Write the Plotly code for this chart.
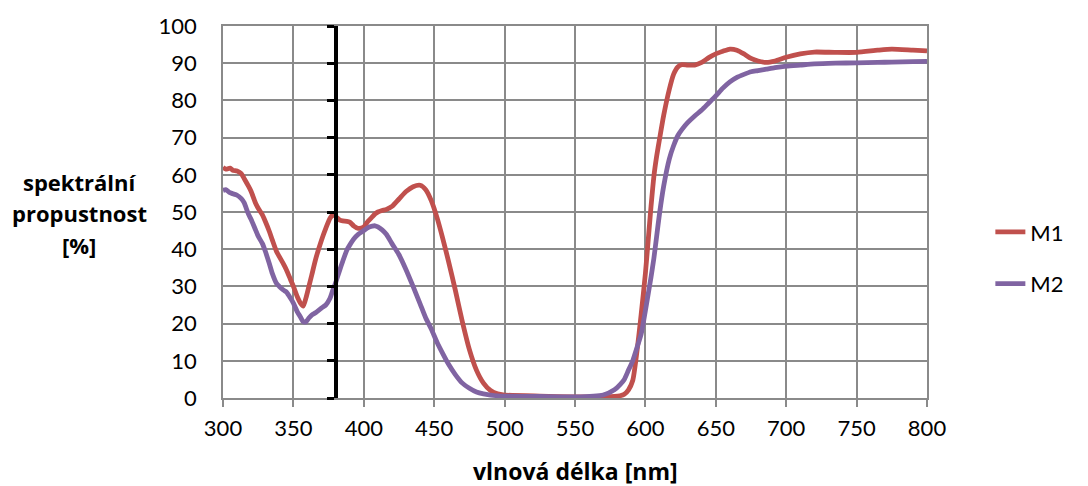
import plotly.graph_objects as go

# Wavelength grid [nm] and spectral transmittance [%] of the two samples
wavelength = [300, 302, 305, 307, 310, 313, 315, 318, 320, 323, 325, 328, 330, 333, 335, 338,
              340, 343, 345, 348, 350, 353, 355, 357, 359, 361, 363, 366, 370, 373, 376, 378,
              380, 383, 385, 388, 390, 393, 396, 400, 403, 406, 408, 410, 413, 416, 420, 425,
              430, 435, 440, 444, 448, 452, 456, 460, 465, 470, 475, 480, 485, 490, 495, 500,
              525, 550, 570, 578, 582, 585, 588, 591, 594, 597, 600, 602, 604, 606, 608, 610,
              613, 617, 620, 623, 626, 630, 635, 640, 645, 650, 655, 660, 665, 670, 675, 680,
              686, 692, 700, 710, 720, 735, 750, 765, 775, 790, 800]

m1 = [62.0, 61.5, 61.8, 61.2, 61.0, 60.3, 59.0, 57.0, 55.5, 52.5, 51.0, 49.2, 47.5, 44.7, 42.5, 39.4,
      38.0, 36.0, 34.5, 31.8, 30.0, 27.0, 25.5, 24.7, 27.0, 30.0, 33.0, 37.6, 42.5, 45.6, 48.3, 49.2,
      48.8, 47.8, 47.6, 47.5, 47.3, 46.2, 45.6, 46.0, 47.5, 48.7, 49.5, 50.0, 50.4, 50.7, 51.5, 53.5,
      55.5, 56.8, 57.2, 56.0, 53.0, 48.5, 43.0, 37.0, 29.0, 20.5, 13.0, 7.5, 4.0, 2.0, 1.1, 0.8,
      0.5, 0.3, 0.3, 0.4, 0.6, 1.0, 2.2, 4.7, 12.5, 22.5, 33.5, 42.5, 51.5, 59.5, 65.0, 69.5,
      76.0, 83.0, 87.0, 89.0, 89.6, 89.5, 89.5, 90.2, 91.5, 92.5, 93.2, 93.8, 93.5, 92.5, 91.3, 90.6,
      90.2, 90.6, 91.6, 92.5, 93.0, 92.9, 92.9, 93.5, 93.8, 93.5, 93.3]

m2 = [55.8, 56.0, 55.2, 54.9, 54.5, 53.6, 52.5, 49.5, 48.0, 45.3, 43.5, 41.5, 39.5, 36.0, 33.5, 30.8,
      30.0, 29.0, 28.5, 26.8, 25.5, 23.0, 21.8, 20.5, 20.5, 21.5, 22.3, 23.0, 24.2, 25.0, 26.8, 29.0,
      31.0, 34.5, 36.7, 39.8, 41.1, 42.8, 44.0, 45.0, 45.8, 46.2, 46.3, 46.0, 45.2, 44.0, 41.5, 38.5,
      34.5, 30.0, 25.3, 21.5, 18.5, 15.0, 12.0, 9.2, 6.3, 4.0, 2.6, 1.6, 1.1, 0.8, 0.6, 0.5,
      0.4, 0.3, 0.8, 2.2, 3.6, 5.0, 7.5, 10.0, 13.5, 17.2, 23.5, 28.0, 32.5, 37.5, 43.5, 49.5,
      57.0, 64.3, 67.8, 70.5, 72.2, 74.0, 75.8, 77.4, 79.3, 81.2, 83.3, 85.0, 86.2, 87.0, 87.7, 88.0,
      88.4, 88.8, 89.2, 89.5, 89.8, 90.0, 90.1, 90.2, 90.3, 90.4, 90.5]

series_names = ["M1", "M2"]
series_colors = ["#C0504D", "#8064A2"]

x_ticks = list(range(300, 801, 50))
y_ticks = list(range(0, 101, 10))
marker_axis_at = 380  # position of the auxiliary vertical axis [nm]

FONT = "Lato, 'Open Sans', sans-serif"
TITLE_FONT = "'Open Sans', Lato, sans-serif"
GRID = "#8a8a8a"

fig = go.Figure()
for name, ys, col in zip(series_names, [m1, m2], series_colors):
    fig.add_trace(go.Scatter(
        x=wavelength, y=ys, name=name, mode="lines",
        line=dict(color=col, width=4.8, shape="spline", smoothing=0.6),
        legendgroup=name,
    ))

# invisible trace that carries the auxiliary black axis
fig.add_trace(go.Scatter(x=[marker_axis_at, marker_axis_at], y=[0, 100], yaxis="y2",
                         mode="lines", line=dict(width=0), showlegend=False,
                         hoverinfo="skip"))

W, H = 1088, 486
ml, mr, mt, mb = 223, 161, 23, 88
x_span = x_ticks[-1] - x_ticks[0]

fig.update_layout(
    width=W, height=H,
    margin=dict(l=ml, r=mr, t=mt, b=mb),
    paper_bgcolor="white", plot_bgcolor="white",
    font=dict(family=FONT, size=22, color="black"),
    xaxis=dict(
        range=[x_ticks[0], x_ticks[-1]], tickvals=x_ticks,
        showgrid=True, gridcolor=GRID, gridwidth=1.5,
        showline=True, linecolor=GRID, linewidth=1.5, mirror=True,
        ticks="outside", ticklen=7, tickcolor=GRID, tickwidth=1.5,
        zeroline=False, ticklabelstandoff=3,
    ),
    yaxis=dict(
        range=[0, 100], tickvals=y_ticks,
        showgrid=True, gridcolor=GRID, gridwidth=1.5,
        showline=True, linecolor=GRID, linewidth=1.5, mirror=True,
        ticks="", zeroline=False, ticklabelstandoff=20,
    ),
    yaxis2=dict(
        overlaying="y", anchor="free", side="left",
        position=(marker_axis_at - x_ticks[0]) / x_span,
        range=[0, 100], tickvals=y_ticks, showticklabels=False,
        showgrid=False, zeroline=False,
        showline=True, linecolor="black", linewidth=4,
        ticks="outside", ticklen=7, tickwidth=3, tickcolor="black",
    ),
    legend=dict(
        x=1.09, y=0.376, xanchor="left", yanchor="middle",
        font=dict(family=FONT, size=22), tracegroupgap=20,
        bgcolor="rgba(0,0,0,0)",
    ),
    showlegend=True,
)

# axis titles
fig.add_annotation(text="<b>vlnová délka [nm]</b>", xref="paper", yref="paper",
                   x=0.5, y=(H - mb - 472) / (H - mt - mb), xanchor="center", yanchor="middle",
                   showarrow=False, font=dict(family=TITLE_FONT, size=23))
for line, ypix in zip(["spektrální", "propustnost", "[%]"], [180, 212, 244]):
    fig.add_annotation(text=f"<b>{line}</b>", xref="paper", yref="paper",
                       x=(79 - ml) / (W - ml - mr), y=(H - mb - ypix) / (H - mt - mb),
                       xanchor="center", yanchor="middle", showarrow=False,
                       font=dict(family=TITLE_FONT, size=22))

fig.write_html("out.html")
